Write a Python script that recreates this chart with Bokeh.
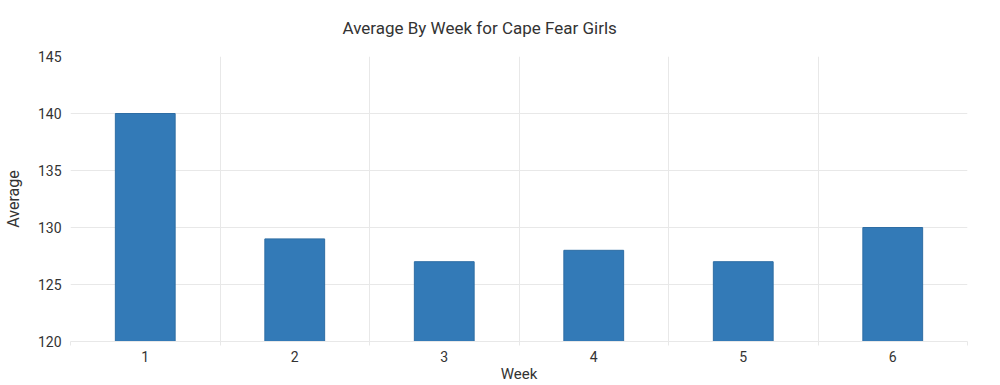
from bokeh.plotting import figure
from bokeh.models import FixedTicker, Range1d, ColumnDataSource
from bokeh.embed import file_html
from bokeh.resources import INLINE

weeks = [1, 2, 3, 4, 5, 6]
averages = [140, 129, 127, 128, 127, 130]
y_ticks = [120, 125, 130, 135, 140, 145]

FONT = "Roboto"
TEXT = "#333333"
GRID = "#e8e8e8"

src = ColumnDataSource(dict(week=weeks, avg=averages, base=[y_ticks[0]] * len(weeks)))

p = figure(width=992, height=385, output_backend="svg", toolbar_location=None,
           x_range=Range1d(0.5, 6.5), y_range=Range1d(y_ticks[0], y_ticks[-1]),
           min_border_left=69, min_border_right=25, min_border_top=55, min_border_bottom=43)
p.outline_line_color = None

p.vbar(x="week", top="avg", bottom="base", width=0.4, source=src,
       fill_color="#337ab7", line_color="#2e6da4", line_width=1)

p.title.text = "Average By Week for Cape Fear Girls"
p.title.text_font = FONT
p.title.text_font_size = "17px"
p.title.text_font_style = "normal"
p.title.text_color = TEXT
p.title.align = "left"
p.title.vertical_align = "top"
p.title.offset = 272
p.title.standoff = 34

# y axis
p.yaxis.ticker = FixedTicker(ticks=y_ticks)
p.yaxis.axis_label = "Average"
p.yaxis.axis_label_text_font = FONT
p.yaxis.axis_label_text_font_size = "16px"
p.yaxis.axis_label_text_font_style = "normal"
p.yaxis.axis_label_text_color = TEXT
p.yaxis.axis_label_standoff = 12
p.yaxis.major_label_text_font = FONT
p.yaxis.major_label_text_font_size = "14px"
p.yaxis.major_label_text_color = TEXT
p.yaxis.major_label_standoff = 9
p.yaxis.major_tick_out = 0
p.yaxis.major_tick_in = 0
p.yaxis.minor_tick_out = 0
p.yaxis.minor_tick_in = 0
p.yaxis.axis_line_color = None

# x axis
bounds = [w - 0.5 for w in weeks] + [weeks[-1] + 0.5]
p.xaxis.ticker = FixedTicker(ticks=weeks, minor_ticks=bounds)
p.xaxis.axis_label = "Week"
p.xaxis.axis_label_text_font = FONT
p.xaxis.axis_label_text_font_size = "15px"
p.xaxis.axis_label_text_font_style = "normal"
p.xaxis.axis_label_text_color = TEXT
p.xaxis.axis_label_standoff = 0
p.xaxis.major_label_text_font = FONT
p.xaxis.major_label_text_font_size = "14px"
p.xaxis.major_label_text_color = TEXT
p.xaxis.major_label_standoff = 5
p.xaxis.major_tick_out = 0
p.xaxis.major_tick_in = 0
p.xaxis.minor_tick_out = 4
p.xaxis.minor_tick_in = 0
p.xaxis.minor_tick_line_color = GRID
p.xaxis.axis_line_color = GRID

p.xgrid.ticker = FixedTicker(ticks=bounds)
p.xgrid.grid_line_color = GRID
p.ygrid.grid_line_color = GRID

open("out.html", "w").write(file_html(p, INLINE))
